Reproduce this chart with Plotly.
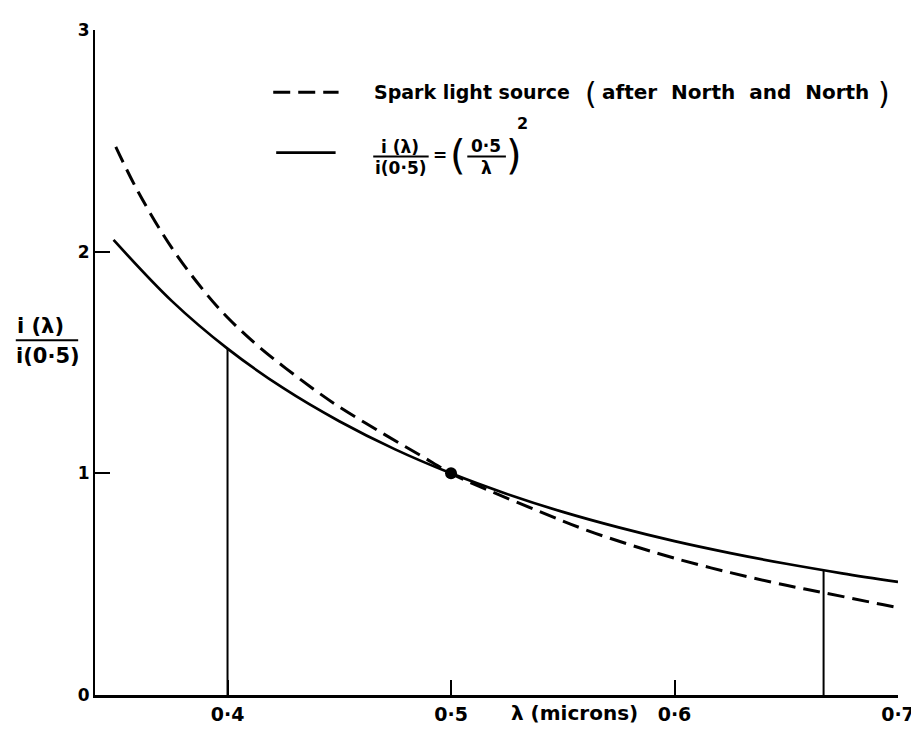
import plotly.graph_objects as go

# ---------------- data ----------------
x_tick_vals = [0.4, 0.5, 0.6, 0.7]
x_tick_text = ["0·4", "0·5", "0·6", "0·7"]
y_tick_vals = [0, 1, 2, 3]
y_tick_text = ["0", "1", "2", "3"]

# Spark light source (after North and North) - dashed curve
spark_lambda = [0.35, 0.36, 0.375, 0.39, 0.40, 0.415, 0.44, 0.45, 0.47, 0.487,
                0.50, 0.515, 0.54, 0.56, 0.58, 0.60, 0.625, 0.65, 0.667, 0.693,
                0.704]
spark_ratio = [2.473, 2.270, 2.018, 1.816, 1.703, 1.563, 1.369, 1.300, 1.177, 1.077,
               1.000, 0.931, 0.826, 0.746, 0.678, 0.617, 0.552, 0.495, 0.461, 0.408,
               0.387]

# i(λ)/i(0.5) = (0.5/λ)^2 - solid curve
law_lambda = [0.349, 0.375, 0.40, 0.425, 0.45, 0.475, 0.50, 0.525, 0.55,
              0.575, 0.60, 0.625, 0.65, 0.675, 0.70]
law_ratio = [2.053, 1.778, 1.5625, 1.384, 1.235, 1.108, 1.000, 0.907, 0.826,
             0.756, 0.694, 0.640, 0.592, 0.549, 0.510]

# vertical drop lines
drop_lambda = [0.4, 0.6667]
drop_top = [1.5625, 0.5625]

# reference point
ref_lambda = [0.5]
ref_ratio = [1.0]

# ---------------- layout geometry ----------------
W, H = 919, 729
ML, MR, MT, MB = 87, 21, 15, 41
PW, PH = W - ML - MR, H - MT - MB
X_RANGE = [0.3407, 0.7]
Y_RANGE = [0, 3]


def pxx(x):
    return (x - ML) / PW


def pyy(y):
    return (H - MB - y) / PH


FONT = "DejaVu Sans"
INK = "black"

fig = go.Figure()

fig.add_trace(go.Scatter(
    x=spark_lambda, y=spark_ratio, mode="lines",
    line=dict(color=INK, width=3, dash="17px,8px", shape="spline", smoothing=1.0),
    showlegend=False, hoverinfo="skip"))

fig.add_trace(go.Scatter(
    x=law_lambda, y=law_ratio, mode="lines",
    line=dict(color=INK, width=2.7, shape="spline", smoothing=1.0),
    showlegend=False, hoverinfo="skip"))

for lam, top in zip(drop_lambda, drop_top):
    fig.add_trace(go.Scatter(
        x=[lam, lam], y=[0, top], mode="lines",
        line=dict(color=INK, width=2),
        showlegend=False, hoverinfo="skip"))

fig.add_trace(go.Scatter(
    x=ref_lambda, y=ref_ratio, mode="markers",
    marker=dict(color=INK, size=12),
    showlegend=False, hoverinfo="skip"))

ann = []


def txt(text, x, y, size=19, xanchor="center", weight="bold"):
    ann.append(dict(text=text, x=pxx(x), y=pyy(y), xref="paper", yref="paper",
                    xanchor=xanchor, yanchor="middle", showarrow=False,
                    borderpad=0,
                    font=dict(family=FONT, size=size, color=INK, weight=weight)))


# legend row 1
txt("Spark light source", 368, 78, 19, "left")
txt("(", 588, 79, 30, "center", "normal")
txt("after  North  and  North", 598, 78, 20, "left")
txt(")", 884, 79, 30, "center", "normal")

# legend row 2: formula
txt("i (λ)", 395, 133, 17)
txt("i(0·5)", 396, 155, 17)
txt("=", 435, 142, 17)
txt("(", 454, 142, 40, "center", "normal")
txt("0·5", 482, 132, 17)
txt("λ", 482, 155, 17)
txt(")", 510, 142, 40, "center", "normal")
txt("2", 519, 110, 16)

# y axis label fraction
txt("i (λ)", 32, 315, 21)
txt("i(0·5)", 40, 345, 21)

# x axis label
txt("λ (microns)", 571, 706, 20)

shapes = [
    # legend samples
    dict(type="line", xref="paper", yref="paper", x0=pxx(267), x1=pxx(333),
         y0=pyy(78), y1=pyy(78), line=dict(color=INK, width=3, dash="17px,8px")),
    dict(type="line", xref="paper", yref="paper", x0=pxx(270), x1=pxx(330),
         y0=pyy(139), y1=pyy(139), line=dict(color=INK, width=2.7)),
    # fraction bars
    dict(type="line", xref="paper", yref="paper", x0=pxx(368), x1=pxx(424),
         y0=pyy(143), y1=pyy(143), line=dict(color=INK, width=2)),
    dict(type="line", xref="paper", yref="paper", x0=pxx(463), x1=pxx(502),
         y0=pyy(143), y1=pyy(143), line=dict(color=INK, width=2)),
    dict(type="line", xref="paper", yref="paper", x0=pxx(7), x1=pxx(70),
         y0=pyy(329), y1=pyy(329), line=dict(color=INK, width=2)),
]

fig.update_layout(
    width=W, height=H,
    margin=dict(l=ML, r=MR, t=MT, b=MB, pad=0),
    paper_bgcolor="white", plot_bgcolor="white",
    annotations=ann, shapes=shapes,
    showlegend=False,
    xaxis=dict(range=X_RANGE, tickvals=x_tick_vals, ticktext=x_tick_text,
               ticks="inside", ticklen=15, tickwidth=2, tickcolor=INK,
               showline=True, linecolor=INK, linewidth=2.5,
               showgrid=False, zeroline=False,
               tickfont=dict(family=FONT, size=19, color=INK, weight="bold")),
    yaxis=dict(range=Y_RANGE, tickvals=y_tick_vals, ticktext=y_tick_text,
               ticks="inside", ticklen=15, tickwidth=2, tickcolor=INK,
               showline=True, linecolor=INK, linewidth=2,
               showgrid=False, zeroline=False,
               tickfont=dict(family=FONT, size=17, color=INK, weight="bold")),
)

fig.write_html("out.html")
